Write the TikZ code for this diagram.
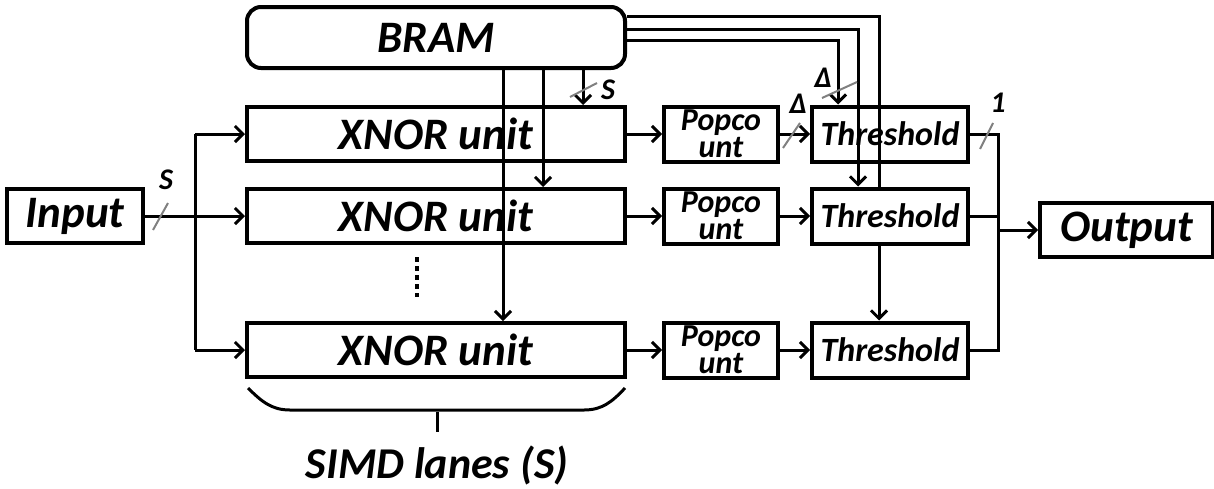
\documentclass[tikz,border=0pt]{standalone}
\usepackage{fontspec}
\setmainfont{Carlito}
\usetikzlibrary{positioning,arrows.meta}

\newcommand{\bigtxt}{\fontsize{22.5}{24}\selectfont\bfseries\itshape}
\newcommand{\thrtxt}{\fontsize{17}{18}\selectfont\bfseries\itshape}
\newcommand{\poptxt}{\fontsize{16}{13.5}\selectfont\bfseries\itshape}
\newcommand{\lbltxt}{\fontsize{15}{16}\selectfont\bfseries\itshape}

\begin{document}
\begin{tikzpicture}[x=0.5pt,y=-0.5pt,
  >={Straight Barb[length=4pt,width=8pt]},
  blk/.style={draw,line width=2pt,inner sep=0pt},
  xnor/.style={blk,minimum width=189pt,minimum height=27pt,font=\bigtxt},
  popc/.style={blk,minimum width=57pt,minimum height=27.5pt,font=\poptxt,align=center},
  thr/.style={blk,minimum width=78pt,minimum height=27.5pt,font=\thrtxt},
  wire/.style={line width=1.5pt},
  bus/.style={gray,line width=1pt},
  lbl/.style={font=\lbltxt,inner sep=0pt}]

\useasboundingbox (0,0) rectangle (1214,488);

\node[blk,rounded corners=7pt,minimum width=189pt,minimum height=30.5pt,font=\bigtxt] (bram) at (436,37.5) {BRAM};

\node[xnor] (x1) at (436,134) {XNOR unit};
\node[xnor] (x2) at (436,216) {XNOR unit};
\node[xnor] (x3) at (436,350) {XNOR unit};

\node[popc] (p1) at (721,134) {Popco\\unt};
\node[popc] (p2) at (721,216) {Popco\\unt};
\node[popc] (p3) at (721,350) {Popco\\unt};

\node[thr] (t1) at (890,134) {Threshold};
\node[thr] (t2) at (890,216) {Threshold};
\node[thr] (t3) at (890,350) {Threshold};

\node[blk,minimum width=68pt,minimum height=27pt,font=\bigtxt] (in) at (75,216) {Input};
\node[blk,minimum width=86.5pt,minimum height=27pt,font=\bigtxt] (out) at (1126.5,230) {Output};

\coordinate (split) at (195,216);
\coordinate (merge) at (998,230);
\coordinate (bx1) at (583,0);
\coordinate (bx2) at (543,0);
\coordinate (bx3) at (503,0);
\coordinate (r1) at (838,40);
\coordinate (r2) at (858,29);
\coordinate (r3) at (879,16);

% input fan-out
\draw[wire,->] (in) -- (x2);
\draw[wire] (split |- x1) -- (split |- x3);
\draw[wire,->] (split |- x1) -- (x1);
\draw[wire,->] (split |- x3) -- (x3);

% lanes
\draw[wire,->] (x1) -- (p1);
\draw[wire,->] (x2) -- (p2);
\draw[wire,->] (x3) -- (p3);
\draw[wire,->] (p1) -- (t1);
\draw[wire,->] (p2) -- (t2);
\draw[wire,->] (p3) -- (t3);

% outputs
\draw[wire] (t1) -| (merge |- t3) -- (t3);
\draw[wire] (t2) -- (t2 -| merge);
\draw[wire,->] (merge) -- (out);

% BRAM feeds
\draw[wire,->] (bram.south -| bx1) -- (x1.north -| bx1);
\draw[wire,->] (bram.south -| bx2) -- (x2.north -| bx2);
\draw[wire,->] (bram.south -| bx3) -- (x3.north -| bx3);
\draw[wire,->] (bram.east |- r1) -| (t1.north -| r1);
\draw[wire,->] (bram.east |- r2) -| (t2.north -| r2);
\draw[wire] (bram.east |- r3) -| (t2.north -| r3);
\draw[wire,->] (t2.south -| r3) -- (t3.north -| r3);

% bus widths
\draw[bus] (153,230) -- (168,203);
\node[lbl] (sin) at (166,180) {S};
\draw[bus] (570,97) -- (597,83);
\node[lbl] (sbram) at (608,90) {S};
\draw[bus] (783,148) -- (800,123);
\node[lbl] (d1) at (798,104) {Δ};
\draw[bus] (822,98) -- (857,82);
\node[lbl] (d2) at (823,78) {Δ};
\draw[bus] (980,149) -- (993,123);
\node[lbl] (one) at (998,103) {1};

% more lanes
\draw[line width=2.2pt,dash pattern=on 2.5pt off 2pt] (417,257) -- (417,297);

% SIMD brace
\draw[wire] (248,388) .. controls (262,402) and (272,410) .. (290,410) -- (584,410) .. controls (602,410) and (612,402) .. (625,388);
\draw[wire] (437,412) -- (437,432);
\node[font=\fontsize{22}{24}\selectfont\bfseries\itshape] (simd) at (437,465) {SIMD lanes (S)};

\end{tikzpicture}
\end{document}
